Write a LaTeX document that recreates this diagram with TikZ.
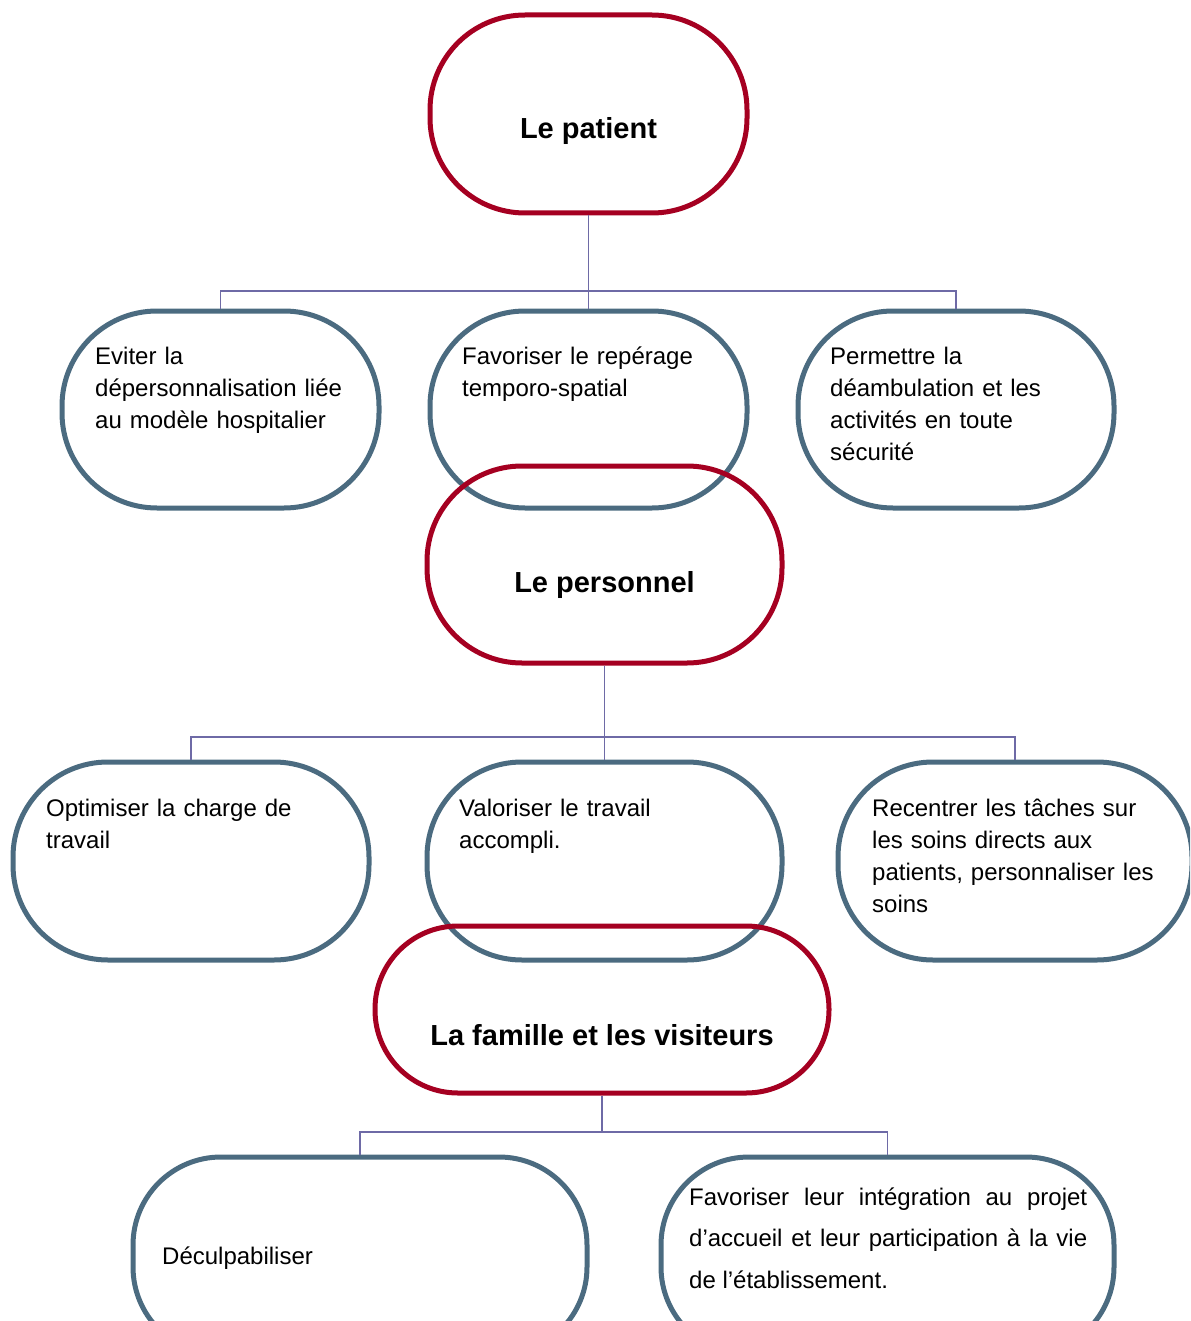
\documentclass[tikz,border=0pt]{standalone}
\usepackage{fontspec}
\setmainfont{Liberation Sans}
\usepackage{xcolor}
\usetikzlibrary{positioning}
\definecolor{boxred}{HTML}{A50021}
\definecolor{boxblue}{HTML}{4B6B80}
\definecolor{linkviolet}{HTML}{6E6AA6}
\tikzset{
  redbox/.style={draw=boxred,line width=5pt,rounded corners=95pt},
  bluebox/.style={draw=boxblue,line width=5pt,rounded corners=95pt},
  link/.style={draw=linkviolet,line width=1.8pt},
  title/.style={inner sep=0pt,anchor=base,font=\fontsize{29}{35}\selectfont\bfseries},
  txt/.style={inner sep=0pt,anchor=base west,text width=300pt,align=left,font=\fontsize{24}{32}\selectfont}
}
\begin{document}
\begin{tikzpicture}[x=1pt,y=-1pt]
\clip(0,0)rectangle(1190,1321);
%%% le patient
\node[redbox,minimum width=317pt,minimum height=198pt](patient)at(588.5,114){};
\node[title](tpatient)at(588.5,139){Le patient};
\node[bluebox,minimum width=317pt,minimum height=197pt](eviter)at(220.5,409.5){};
\node[bluebox,minimum width=317pt,minimum height=197pt](reperage)at(588.5,409.5){};
\node[bluebox,minimum width=316pt,minimum height=197pt](deamb)at(956,409.5){};
\node[txt](teviter)at(95,364){Eviter la\\dépersonnalisation liée\\au modèle hospitalier};
\node[txt](treperage)at(462,364){Favoriser le repérage\\temporo-spatial};
\node[txt](tdeamb)at(830,364){Permettre la\\déambulation et les\\activités en toute\\sécurité};
\coordinate(bus1)at(patient.south|-0,291);
\draw[link](patient.south)--(bus1)--(reperage.north);
\draw[link](eviter.north)|-(bus1)-|(deamb.north);
%%% le personnel
\node[redbox,minimum width=355pt,minimum height=197pt](personnel)at(604.5,564.5){};
\node[title](tpersonnel)at(604.5,592){Le personnel};
\node[bluebox,minimum width=356pt,minimum height=198pt](charge)at(191,861){};
\node[bluebox,minimum width=355pt,minimum height=198pt](valoriser)at(604.5,861){};
\node[bluebox,minimum width=354pt,minimum height=198pt](recentrer)at(1015,861){};
\node[txt](tcharge)at(46,816){Optimiser la charge de\\travail};
\node[txt](tvaloriser)at(459,816){Valoriser le travail\\accompli.};
\node[txt](trecentrer)at(872,816){Recentrer les tâches sur\\les soins directs aux\\patients, personnaliser les\\soins};
\coordinate(bus2)at(personnel.south|-0,737);
\draw[link](personnel.south)--(bus2)--(valoriser.north);
\draw[link](charge.north)|-(bus2)-|(recentrer.north);
%%% la famille
\node[redbox,rounded corners=83pt,minimum width=454pt,minimum height=167pt](famille)at(602,1009.5){};
\node[title](tfamille)at(602,1045){La famille et les visiteurs};
\node[bluebox,rounded corners=88pt,minimum width=454pt,minimum height=198pt](deculp)at(360,1256){};
\node[bluebox,rounded corners=88pt,minimum width=453pt,minimum height=198pt](integr)at(887.5,1256){};
\node[txt](tdeculp)at(162,1264){Déculpabiliser};
\node[txt,text width=398pt,align=justify,font=\fontsize{24}{41.5}\selectfont](tintegr)at(689,1205){Favoriser leur intégration au projet\linebreak d’accueil et leur participation à la vie\linebreak de l’établissement.};
\coordinate(bus3)at(famille.south|-0,1132);
\draw[link](famille.south)--(bus3);
\draw[link](deculp.north)|-(bus3)-|(integr.north);
\end{tikzpicture}
\end{document}
